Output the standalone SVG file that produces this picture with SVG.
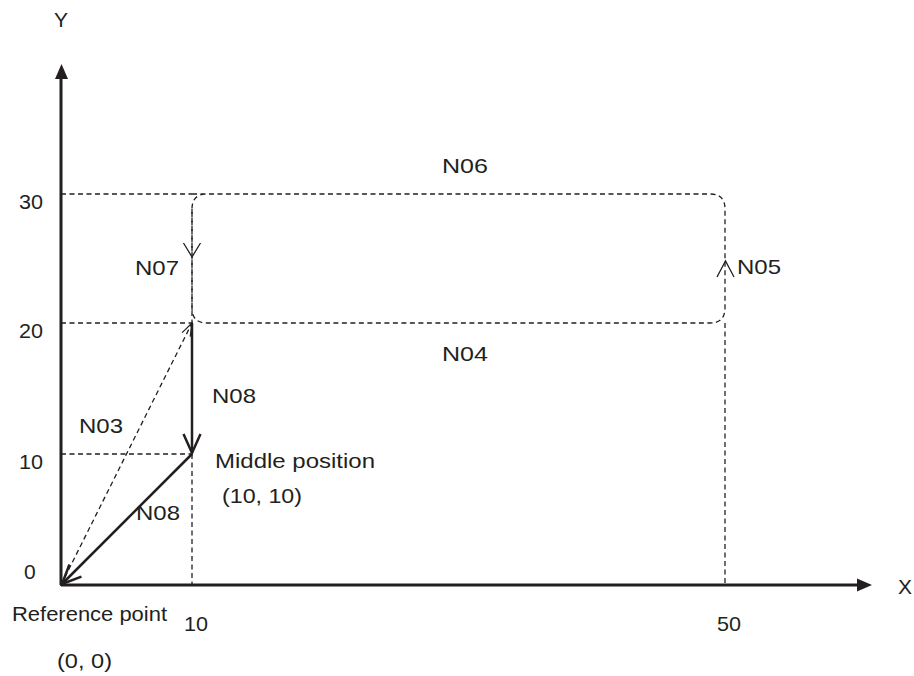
<svg xmlns="http://www.w3.org/2000/svg" width="914" height="676" viewBox="0 0 914 676">
<defs>
<style>
text{font-family:"Liberation Sans",Arial,sans-serif;font-size:21px;fill:#231f20}
.dash{fill:none;stroke:#231f20;stroke-width:1.3;stroke-dasharray:5,3.5}
.axis{fill:none;stroke:#231f20;stroke-width:3}
.move{fill:none;stroke:#231f20;stroke-width:2.5}
.open{fill:none;stroke:#231f20;stroke-width:1.3}
</style>
<marker id="big" markerUnits="userSpaceOnUse" markerWidth="24" markerHeight="24" viewBox="-20 -10 24 20" refX="0" refY="0" orient="auto">
<path d="M-19,-8.5 L0,0 L-19,8.5" fill="none" stroke="#231f20" stroke-width="2.5"/>
</marker>
<marker id="small" markerUnits="userSpaceOnUse" markerWidth="16" markerHeight="16" viewBox="-14 -8 16 16" refX="0" refY="0" orient="auto">
<path d="M-13,-4.5 L0,0 L-13,4.5" fill="none" stroke="#231f20" stroke-width="1.2"/>
</marker>
</defs>
<g id="grid">
<line class="dash" x1="61" y1="194" x2="192" y2="194"/>
<line class="dash" x1="61" y1="323" x2="192" y2="323"/>
<line class="dash" x1="61" y1="454" x2="192" y2="454"/>
<line class="dash" x1="192" y1="454" x2="192" y2="584"/>
<line class="dash" x1="725" y1="323" x2="725" y2="584"/>
</g>
<g id="axes">
<line class="axis" x1="61" y1="585" x2="61" y2="76"/>
<polygon points="61.5,64 55,79 68,79" fill="#231f20"/>
<line class="axis" x1="61" y1="585" x2="860" y2="585"/>
<polygon points="872,585 857,578.5 857,591.5" fill="#231f20"/>
</g>
<g id="connectors">
<path id="path-loop" class="dash" d="M192,194 H710 Q725,194 725,209 V308 Q725,323 710,323 H207 Q192,323 192,308 V209 Q192,194 207,194"/>
<line class="dash" x1="192" y1="209" x2="192" y2="323"/>
<line id="n03" class="dash" x1="61" y1="585" x2="192" y2="323" marker-end="url(#small)"/>
<line id="n08a" class="move" x1="192" y1="323" x2="192" y2="453" marker-end="url(#big)"/>
<line id="n08b" class="move" x1="192" y1="454" x2="62" y2="584" marker-end="url(#big)"/>
<path id="n07-head" class="open" d="M183.5,243 L192,257 L200.5,243"/>
<path id="n05-head" class="open" d="M717,277 L725.5,261 L734,277"/>
</g>
<g id="labels">
<text x="61" y="27" text-anchor="middle">Y</text>
<text x="898" y="594">X</text>
<text x="19" y="209" textLength="24" lengthAdjust="spacingAndGlyphs">30</text>
<text x="19" y="338" textLength="24" lengthAdjust="spacingAndGlyphs">20</text>
<text x="19" y="469" textLength="24" lengthAdjust="spacingAndGlyphs">10</text>
<text x="24" y="579">0</text>
<text x="12" y="621" textLength="155" lengthAdjust="spacingAndGlyphs">Reference point</text>
<text x="57" y="668" textLength="55" lengthAdjust="spacingAndGlyphs">(0, 0)</text>
<text x="184" y="631" textLength="24" lengthAdjust="spacingAndGlyphs">10</text>
<text x="717" y="631" textLength="24" lengthAdjust="spacingAndGlyphs">50</text>
<text x="442" y="173" textLength="46" lengthAdjust="spacingAndGlyphs">N06</text>
<text x="442" y="361" textLength="46" lengthAdjust="spacingAndGlyphs">N04</text>
<text x="135" y="275" textLength="44" lengthAdjust="spacingAndGlyphs">N07</text>
<text x="737" y="274" textLength="44" lengthAdjust="spacingAndGlyphs">N05</text>
<text x="212" y="403" textLength="44" lengthAdjust="spacingAndGlyphs">N08</text>
<text x="79" y="433" textLength="44" lengthAdjust="spacingAndGlyphs">N03</text>
<text x="136" y="520" textLength="44" lengthAdjust="spacingAndGlyphs">N08</text>
<text x="215" y="468" textLength="160" lengthAdjust="spacingAndGlyphs">Middle position</text>
<text x="222" y="503" textLength="80" lengthAdjust="spacingAndGlyphs">(10, 10)</text>
</g>
</svg>
